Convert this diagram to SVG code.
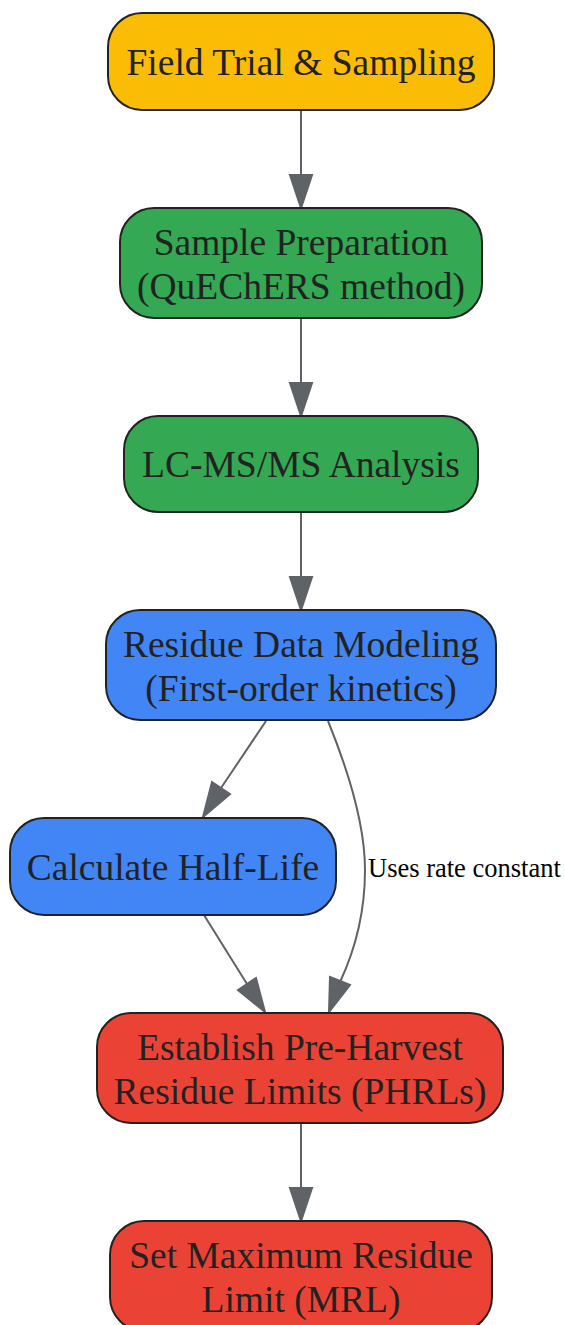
<svg xmlns="http://www.w3.org/2000/svg" width="565" height="1325" viewBox="0 0 565 1325">
<style>
.n rect{stroke:#222;stroke-width:2}
.n text{font-family:"Liberation Serif","Times New Roman",serif;font-size:37.5px;fill:#222;text-anchor:middle}
.e{fill:none;stroke:#5f6368;stroke-width:2}
.ah{fill:#5f6368;stroke:#5f6368;stroke-width:2}
.lbl{font-family:"Liberation Serif","Times New Roman",serif;font-size:26.5px;fill:#000}
</style>
<rect width="565" height="1325" fill="#fff"/>
<g id="edges">
<path class="e" d="M301,110 L301,175"/>
<path class="ah" d="M290,175 L312,175 L301,208 Z"/>
<path class="e" d="M301,318 L301,383"/>
<path class="ah" d="M290,383 L312,383 L301,416 Z"/>
<path class="e" d="M301,512 L301,577"/>
<path class="ah" d="M290,577 L312,577 L301,610 Z"/>
<path class="e" d="M266,721 L221,788"/>
<path class="ah" d="M212,782 L230,794 L203,817 Z"/>
<path class="e" d="M204,915 L247,984"/>
<path class="ah" d="M238,990 L256,978 L265,1012 Z"/>
<path class="e" d="M328,721 C350,775 365,825 365,870 C365,915 355,950 340,982"/>
<path class="ah" d="M330,977 L350,985 L329,1012 Z"/>
<path class="e" d="M301,1123 L301,1188"/>
<path class="ah" d="M290,1188 L312,1188 L301,1221 Z"/>
<text class="lbl" x="368" y="877">Uses rate constant</text>
</g>
<g id="n1" class="n"><rect x="108" y="13" width="386" height="97" rx="34" fill="#fbbc05"/><text x="301" y="75">Field Trial &amp; Sampling</text></g>
<g id="n2" class="n"><rect x="120" y="208" width="362" height="110" rx="34" fill="#34a853"/><text x="301" y="255">Sample Preparation</text><text x="301" y="299">(QuEChERS method)</text></g>
<g id="n3" class="n"><rect x="124" y="416" width="354" height="96" rx="34" fill="#34a853"/><text x="301" y="477">LC-MS/MS Analysis</text></g>
<g id="n4" class="n"><rect x="106" y="610" width="390" height="110" rx="34" fill="#4285f4"/><text x="301" y="657">Residue Data Modeling</text><text x="301" y="701">(First-order kinetics)</text></g>
<g id="n5" class="n"><rect x="10" y="818" width="326" height="97" rx="34" fill="#4285f4"/><text x="173" y="880">Calculate Half-Life</text></g>
<g id="n6" class="n"><rect x="97" y="1013" width="406" height="110" rx="34" fill="#ea4335"/><text x="300" y="1060">Establish Pre-Harvest</text><text x="300" y="1104">Residue Limits (PHRLs)</text></g>
<g id="n7" class="n"><rect x="110" y="1221" width="382" height="110" rx="34" fill="#ea4335"/><text x="301" y="1268">Set Maximum Residue</text><text x="301" y="1312">Limit (MRL)</text></g>
</svg>
